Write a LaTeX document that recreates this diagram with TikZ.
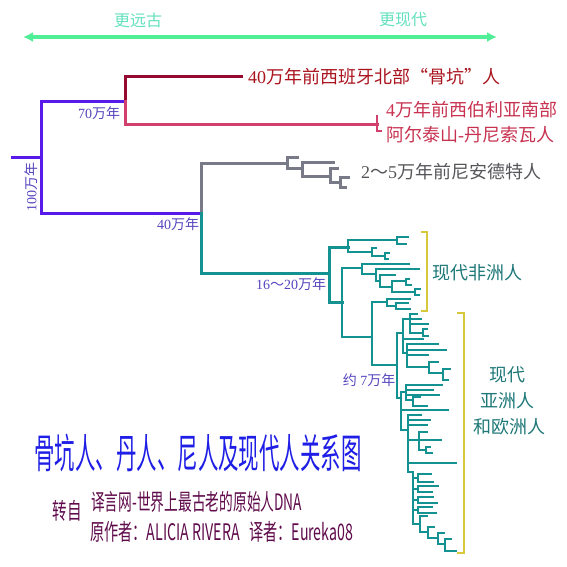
\documentclass[tikz,border=0pt]{standalone}
\usepackage{fontspec}
\usepackage{graphicx}
\setmainfont{Liberation Serif}
\newfontfamily\cjk{Noto Sans CJK SC}
\usetikzlibrary{arrows.meta}
\definecolor{purp}{RGB}{90,25,235}
\definecolor{dred}{RGB}{150,10,50}
\definecolor{dredtxt}{RGB}{170,20,30}
\definecolor{pinkl}{RGB}{210,65,110}
\definecolor{pinktxt}{RGB}{200,50,80}
\definecolor{grayl}{RGB}{120,122,135}
\definecolor{graytxt}{RGB}{85,85,90}
\definecolor{tealc}{RGB}{20,145,145}
\definecolor{tealtxt}{RGB}{30,120,120}
\definecolor{lbl}{RGB}{85,70,190}
\definecolor{arrg}{RGB}{80,238,150}
\definecolor{toptxt}{RGB}{100,225,190}
\definecolor{brk}{RGB}{215,200,60}
\definecolor{titleb}{RGB}{30,30,230}
\definecolor{credit}{RGB}{95,10,75}
\newcommand\tclade[5]{\draw[tl] (#4,#2) -- (#1,#2) -- (#1,#3) -- (#5,#3);}
\newcommand\tleaf[3]{\draw[tl] (#1,#2) -- (#3,#2);}
\begin{document}
\begin{tikzpicture}[x=1pt,y=-1pt,line cap=rect,line join=miter,
  tl/.style={tealc,line width=2.5pt},
  mainl/.style={line width=3pt},
  lab/.style={font=\fontsize{14}{14}\selectfont,text=lbl,inner sep=0pt},
  big/.style={font=\fontsize{18}{18}\selectfont,inner sep=0pt},
  brack/.style={brk,line width=1.5pt}]
\useasboundingbox[fill=white] (0,0) rectangle (567,567);
% top arrow
\coordinate (aL) at (23,37);
\coordinate (aR) at (497,37);
\draw[arrg,line width=4pt,line cap=butt,{Latex[length=10pt,width=10pt]}-{Latex[length=10pt,width=10pt]}] (aL) -- (aR);
\node[font=\fontsize{16}{16}\selectfont\cjk,text=toptxt,inner sep=0pt] (far) at (138,20) {更远古};
\node[font=\fontsize{16}{16}\selectfont\cjk,text=toptxt,inner sep=0pt] (near) at (403,20) {更现代};
% root and main branches
\draw[purp,mainl] (12,157) -- (41,157);
\draw[purp,mainl] (125,102) -- (41,102) -- (41,213) -- (201,213);
\draw[dred,mainl] (125,102) -- (125,77) -- (241,77);
\draw[pinkl,mainl] (125,102) -- (125,125) -- (377,125);
\draw[pinkl,line width=2.5pt] (377,116) -- (377,131) -- (381,131);
\node[lab,rotate=90] (l100) at (31,187) {100{\cjk 万年}};
\node[lab] (l70) at (99,113) {70{\cjk 万年}};
\node[lab] (l40) at (178,224) {40{\cjk 万年}};
\node[lab] (l16) at (291,284) {16{\cjk ～}20{\cjk 万年}};
\node[lab] (l7) at (369,380) {{\cjk 约} 7{\cjk 万年}};
% texts
\node[big,anchor=west,text=dredtxt] (bone) at (248,77) {40{\cjk 万年前西班牙北部“骨坑”人}};
\node[big,anchor=west,text=pinktxt] (den1) at (386,110) {4{\cjk 万年前西伯利亚南部}};
\node[big,anchor=west,text=pinktxt] (den2) at (386,135) {{\cjk 阿尔泰山}-{\cjk 丹尼索瓦人}};
\node[big,anchor=west,text=graytxt] (nea) at (361,172) {2{\cjk ～}5{\cjk 万年前尼安德特人}};
% gray subtree
\draw[grayl,mainl] (201,213) -- (201,163) -- (287,163);
\begin{scope}[every path/.style={grayl,line width=3pt}]
\draw (297,157) -- (287,157) -- (287,168) -- (302,168);
\draw (333,162) -- (302,162) -- (302,176) -- (330,176);
\draw (337,168) -- (330,168) -- (330,182) -- (340,182);
\draw (348,177) -- (340,177) -- (340,187) -- (345,187);
\end{scope}
% teal tree
\draw[tealc,mainl] (201,213) -- (201,273) -- (329,273);
\draw[tealc,mainl] (348,247) -- (329,247) -- (329,302) -- (342,302);
\tclade{348}{240}{252}{397}{372}
\tclade{397}{237}{244}{408}{406}
\tclade{372}{248}{256}{376}{385}
\tclade{385}{253}{259}{389}{388}
\tclade{342}{268}{337}{362}{372}
\tclade{362}{264}{274}{409}{376}
\tclade{376}{269}{281}{419}{380}
\tclade{380}{275}{287}{395}{392}
\tclade{392}{281}{292}{406}{415}
\tclade{406}{279}{285}{409}{411}
\tclade{415}{289}{295}{420}{419}
\tclade{372}{302}{365}{387}{397}
\tclade{387}{299}{306}{410}{396}
\tclade{396}{303}{309}{408}{410}
% Eurasian clade
\tclade{397}{333}{398}{403}{401}
\tclade{403}{319}{353}{410}{407}
\tleaf{403}{339}{423}
\draw[tl] (410,314) -- (410,333);
\tleaf{410}{314}{417}
\tleaf{410}{319}{421}
\tleaf{410}{324}{428}
\tleaf{410}{333}{423}
\tclade{423}{329}{336}{427}{428}
\draw[tl] (407,344) -- (407,367);
\tleaf{407}{344}{438}
\tleaf{407}{350}{446}
\tleaf{407}{355}{428}
\tleaf{407}{367}{429}
\tclade{429}{362}{373}{438}{443}
\tclade{443}{369}{380}{450}{448}
\tclade{401}{392}{430}{406}{408}
\tleaf{401}{410}{448}
\draw[tl] (406,385) -- (406,400);
\tleaf{406}{385}{442}
\tleaf{406}{390}{433}
\tleaf{406}{395}{439}
\tleaf{406}{400}{413}
\tclade{413}{397}{406}{420}{427}
\draw[tl] (408,415) -- (408,472) -- (413,472);
\tleaf{408}{415}{421}
\tleaf{408}{420}{430}
\tleaf{408}{425}{427}
\tleaf{408}{440}{419}
\draw[tl] (419,432) -- (419,450);
\tleaf{419}{432}{427}
\tleaf{419}{440}{441}
\tleaf{419}{450}{426}
\tclade{426}{447}{453}{430}{432}
\tleaf{408}{463}{456}
\draw[tl] (413,472) -- (413,524) -- (420,524);
\tleaf{413}{478}{418}
\tclade{418}{474}{482}{431}{433}
\tleaf{413}{489}{418}
\tclade{418}{486}{492}{438}{432}
\tleaf{413}{500}{418}
\tclade{418}{497}{503}{433}{437}
\tleaf{413}{510}{418}
\tclade{418}{507}{513}{432}{436}
\tclade{420}{516}{532}{427}{428}
\tclade{428}{527}{538}{434}{438}
\tclade{438}{533}{544}{444}{445}
\tclade{445}{539}{551}{451}{456}
% brackets
\draw[brack,line cap=butt] (421,232) -- (427,232) -- (427,311) -- (421,311);
\draw[brack,line cap=butt] (457,313) -- (464,313) -- (464,553) -- (457,553);
\node[big,text=tealtxt] (afr) at (477,273) {\cjk 现代非洲人};
\node[big,text=tealtxt] (eu1) at (507,375) {\cjk 现代};
\node[big,text=tealtxt] (eu2) at (507,401) {\cjk 亚洲人};
\node[big,text=tealtxt] (eu3) at (509,427) {\cjk 和欧洲人};
% title and credits
\node[inner sep=0pt,text=titleb] (title) at (198,453) {\resizebox*{327pt}{38pt}{\cjk 骨坑人、丹人、尼人及现代人关系图}};
\node[inner sep=0pt,text=credit] (from) at (67,511) {\resizebox*{29pt}{21pt}{\cjk 转自}};
\node[inner sep=0pt,text=credit,anchor=west] (cr1) at (91,502) {\resizebox*{211pt}{21pt}{\cjk 译言网-世界上最古老的原始人DNA}};
\node[inner sep=0pt,text=credit,anchor=west] (cr2) at (90,532) {\resizebox*{263pt}{21pt}{\cjk 原作者：ALICIA RIVERA\ \ \ 译者：Eureka08}};
\end{tikzpicture}
\end{document}
